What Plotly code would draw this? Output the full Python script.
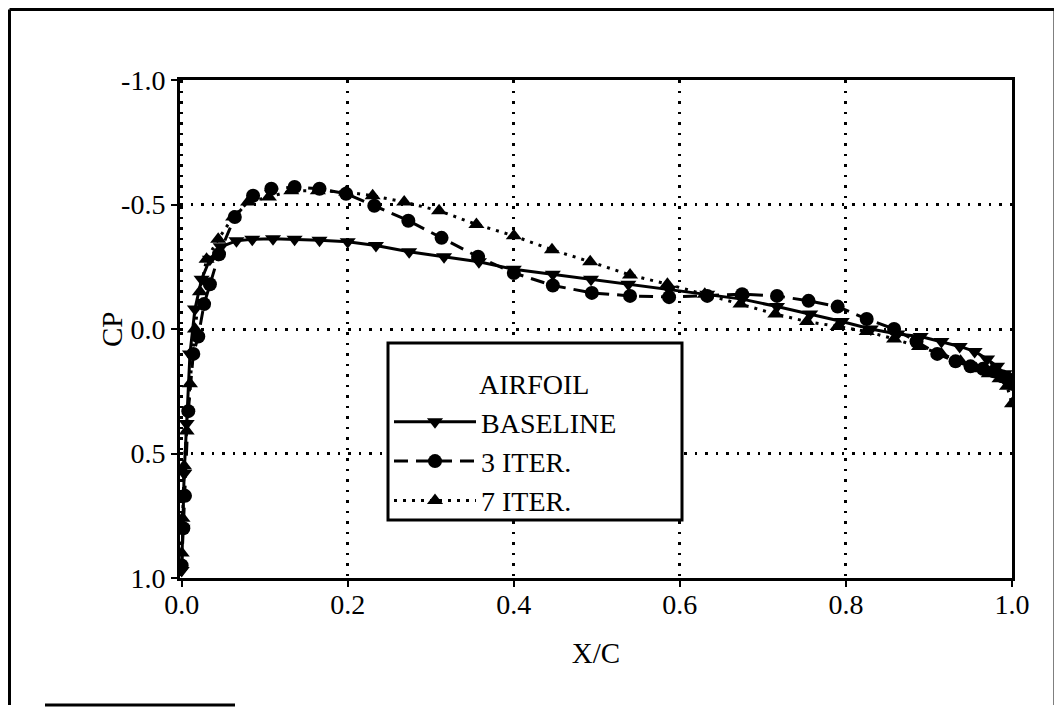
import plotly.graph_objects as go

# ---- data ----
x_baseline = [0.0, 0.001, 0.003, 0.006, 0.010, 0.016, 0.024, 0.034, 0.047, 0.066, 0.085, 0.110, 0.136, 0.166,
              0.200, 0.234, 0.274, 0.316, 0.358, 0.400, 0.447, 0.493, 0.538, 0.587, 0.633, 0.675, 0.717, 0.757,
              0.795, 0.830, 0.862, 0.890, 0.915, 0.937, 0.955, 0.970, 0.982, 0.991, 0.997, 1.0]
cp_baseline = [0.97, 0.80, 0.58, 0.38, 0.10, -0.08, -0.20, -0.28, -0.33, -0.354, -0.36, -0.362, -0.36, -0.356,
               -0.35, -0.335, -0.31, -0.29, -0.27, -0.24, -0.22, -0.20, -0.18, -0.16, -0.14, -0.12, -0.09, -0.06,
               -0.03, 0.00, 0.02, 0.03, 0.05, 0.07, 0.09, 0.12, 0.15, 0.18, 0.20, 0.22]

x_iter3 = [0.0, 0.002, 0.004, 0.008, 0.014, 0.020, 0.027, 0.034, 0.045, 0.064, 0.086, 0.108, 0.136, 0.166,
           0.198, 0.232, 0.273, 0.313, 0.357, 0.400, 0.447, 0.494, 0.540, 0.587, 0.633, 0.675, 0.717, 0.755,
           0.790, 0.825, 0.858, 0.885, 0.910, 0.932, 0.950, 0.965, 0.978, 0.988, 0.995, 1.0]
cp_iter3 = [0.95, 0.80, 0.67, 0.33, 0.10, 0.03, -0.10, -0.18, -0.30, -0.45, -0.535, -0.563, -0.57, -0.563,
            -0.543, -0.495, -0.435, -0.366, -0.29, -0.225, -0.175, -0.145, -0.133, -0.128, -0.133, -0.14, -0.133,
            -0.113, -0.09, -0.04, 0.00, 0.05, 0.10, 0.13, 0.15, 0.16, 0.17, 0.19, 0.20, 0.22]

x_iter7 = [0.0, 0.001, 0.003, 0.006, 0.010, 0.016, 0.022, 0.030, 0.044, 0.062, 0.080, 0.105, 0.132, 0.164,
           0.198, 0.230, 0.268, 0.310, 0.355, 0.400, 0.446, 0.492, 0.540, 0.585, 0.630, 0.673, 0.715, 0.753,
           0.790, 0.825, 0.858, 0.888, 0.915, 0.938, 0.957, 0.972, 0.985, 0.994, 1.0]
cp_iter7 = [0.90, 0.76, 0.55, 0.41, 0.22, 0.0, -0.15, -0.28, -0.36, -0.45, -0.51, -0.53, -0.555, -0.555,
            -0.55, -0.535, -0.51, -0.475, -0.42, -0.374, -0.318, -0.27, -0.217, -0.18, -0.14, -0.10, -0.06,
            -0.03, -0.01, 0.01, 0.04, 0.07, 0.10, 0.13, 0.16, 0.18, 0.20, 0.23, 0.30]

x_ticks = [0.0, 0.2, 0.4, 0.6, 0.8, 1.0]
x_tick_labels = ["0.0", "0.2", "0.4", "0.6", "0.8", "1.0"]
y_ticks = [-1.0, -0.5, 0.0, 0.5, 1.0]
y_tick_labels = ["-1.0", "-0.5", "0.0", "0.5", "1.0"]

FONT = "Liberation Serif"

fig = go.Figure()
fig.add_trace(go.Scatter(x=x_baseline, y=cp_baseline, mode="lines+markers", name="BASELINE",
                         line=dict(color="black", width=3, dash="solid"),
                         marker=dict(symbol="triangle-down", size=14, color="black")))
fig.add_trace(go.Scatter(x=x_iter3, y=cp_iter3, mode="lines+markers", name="3 ITER.",
                         line=dict(color="black", width=3, dash="14px,8px"),
                         marker=dict(symbol="circle", size=14, color="black")))
fig.add_trace(go.Scatter(x=x_iter7, y=cp_iter7, mode="lines+markers", name="7 ITER.",
                         line=dict(color="black", width=3, dash="3px,6px"),
                         marker=dict(symbol="triangle-up", size=14, color="black")))

# the page body adds an 8 px offset; the figure fills the rest of the window
OFF = 8
W, H = 1062 - OFF, 710 - OFF
L, T = 180 - OFF, 80 - OFF
pw, ph = 832, 498
R, B = W - L - pw, H - T - ph


def px_to_paper(sx, sy):
    fx, fy = sx - OFF, sy - OFF
    return (fx - L) / pw, (T + ph - fy) / ph


lx, ly = px_to_paper(389, 397)

fig.update_layout(
    width=W, height=H,
    margin=dict(l=L, r=R, t=T, b=B),
    paper_bgcolor="white", plot_bgcolor="white",
    font=dict(family=FONT, size=28, color="black"),
    showlegend=True,
    legend=dict(
        x=lx, y=ly, xanchor="left", yanchor="top",
        bgcolor="rgba(0,0,0,0)", borderwidth=0,
        font=dict(family=FONT, size=28, color="black"),
        itemwidth=82, tracegroupgap=0,
    ),
    xaxis=dict(
        range=[-0.002, 1.0], tickmode="array", tickvals=x_ticks, ticktext=x_tick_labels,
        showgrid=True, gridcolor="black", gridwidth=2.5, griddash="2.5px,8px",
        showline=True, linecolor="black", linewidth=3, mirror=True,
        ticks="outside", ticklen=6, tickwidth=2, tickcolor="black",
        ticklabelstandoff=-7,
        zeroline=False,
        title=dict(text="X/C", font=dict(family=FONT, size=29), standoff=25),
        tickfont=dict(family=FONT, size=28),
    ),
    yaxis=dict(
        range=[1.0, -1.0], tickmode="array", tickvals=y_ticks, ticktext=y_tick_labels,
        showgrid=True, gridcolor="black", gridwidth=2.5, griddash="2.5px,8px",
        showline=True, linecolor="black", linewidth=3, mirror=True,
        ticks="outside", ticklen=6, tickwidth=2, tickcolor="black",
        zeroline=False,
        tickfont=dict(family=FONT, size=28),
    ),
)

# y axis title, placed where the reference puts it
cpx, cpy = px_to_paper(112, 330)
fig.add_annotation(text="CP", xref="paper", yref="paper", x=cpx, y=cpy, showarrow=False,
                   textangle=-90, font=dict(family=FONT, size=29, color="black"),
                   xanchor="center", yanchor="middle")

# legend frame and its heading
bx0, by0 = px_to_paper(388, 343)
bx1, by1 = px_to_paper(682, 520)
fig.add_shape(type="rect", xref="paper", yref="paper", x0=bx0, y0=by0, x1=bx1, y1=by1,
              fillcolor="white", line=dict(color="black", width=3), layer="above")
tx, ty = px_to_paper(534, 384)
fig.add_annotation(text="AIRFOIL", xref="paper", yref="paper", x=tx, y=ty, showarrow=False,
                   font=dict(family=FONT, size=28, color="black"), xanchor="center", yanchor="middle")

# outer frame of the figure (screen coordinates)
x0, y0 = px_to_paper(9.5, 9.5)
x1, y1 = px_to_paper(1055, 705)
xb0, _ = px_to_paper(45, 705)
xb1, _ = px_to_paper(235, 705)
for (ax, ay, bx, by) in [(x0, y0, x1, y0), (x0, y0, x0, y1), (x1, y0, x1, y1), (xb0, y1, xb1, y1)]:
    fig.add_shape(type="line", xref="paper", yref="paper", x0=ax, y0=ay, x1=bx, y1=by,
                  line=dict(color="black", width=3))

fig.write_html("out.html")
